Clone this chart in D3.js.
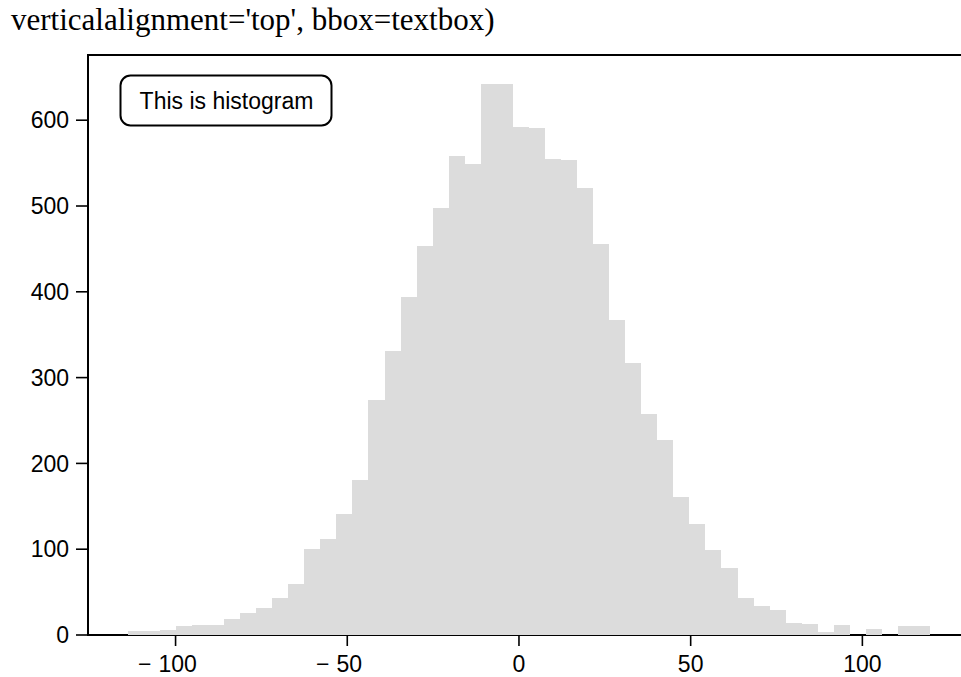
<!DOCTYPE html>
<html>
<head>
<meta charset="utf-8">
<script src="https://cdn.jsdelivr.net/npm/d3@7"></script>
<style>
  html, body { margin: 0; padding: 0; background: #fff; }
  svg { display: block; }
</style>
</head>
<body>
<svg id="chart" width="961" height="677"></svg>
<script>
// Histogram bin edges (51 edges -> 50 bins)
const binEdges = [
  -113.90, -109.23, -104.56, -99.88, -95.21, -90.54, -85.87, -81.20, -76.52, -71.85,
  -67.18, -62.51, -57.84, -53.16, -48.49, -43.82, -39.15, -34.48, -29.80, -25.13,
  -20.46, -15.79, -11.12, -6.44, -1.77, 2.90, 7.57, 12.24, 16.92, 21.59,
  26.26, 30.93, 35.60, 40.28, 44.95, 49.62, 54.29, 58.96, 63.64, 68.31,
  72.98, 77.65, 82.32, 87.00, 91.67, 96.34, 101.01, 105.68, 110.36, 115.03,
  119.70
];

// Count per bin
const counts = [
  5, 5, 6, 11, 12, 12, 19, 26, 32, 43,
  59, 100, 112, 141, 181, 274, 331, 394, 453, 498,
  558, 549, 642, 642, 592, 591, 555, 554, 521, 456,
  367, 317, 258, 227, 161, 129, 99, 78, 43, 34,
  29, 14, 13, 3, 12, 0, 7, 0, 10, 10
];

const xTicks = [-100, -50, 0, 50, 100];
const yTicks = [0, 100, 200, 300, 400, 500, 600];
const xDomain = [-125.5, 131.4];
const yDomain = [0, 676];

const captionText = "verticalalignment='top', bbox=textbox)";
const boxText = "This is histogram";

const svg = d3.select("#chart");

const x = d3.scaleLinear().domain(xDomain).range([88, 970.2]);
const y = d3.scaleLinear().domain(yDomain).range([635, 55]);

const sans = "'Liberation Sans', Arial, sans-serif";
const tickFont = 23;

// caption line above the axes
svg.append("text")
  .attr("x", 11).attr("y", 30)
  .attr("font-family", "'Liberation Serif', 'Times New Roman', serif")
  .attr("font-size", 31)
  .attr("fill", "#000")
  .text(captionText);

// spines: left, top, bottom (the right one lies outside the frame)
const spines = svg.append("g").attr("stroke", "#000").attr("stroke-width", 2);
spines.append("line").attr("x1", x(xDomain[0])).attr("x2", x(xDomain[0]))
  .attr("y1", y(yDomain[1]) - 1).attr("y2", y(0) + 1);
spines.append("line").attr("x1", x(xDomain[0]) - 1).attr("x2", 961)
  .attr("y1", y(yDomain[1])).attr("y2", y(yDomain[1]));
spines.append("line").attr("x1", x(xDomain[0]) - 1).attr("x2", 961)
  .attr("y1", y(0)).attr("y2", y(0));

// histogram bars
const bins = counts.map((c, i) => ({ x0: binEdges[i], x1: binEdges[i + 1], count: c }));
svg.append("g")
  .selectAll("rect")
  .data(bins.filter(d => d.count > 0))
  .join("rect")
  .attr("x", d => x(d.x0))
  .attr("width", d => x(d.x1) - x(d.x0))
  .attr("y", d => y(d.count))
  .attr("height", d => y(0) - y(d.count))
  .attr("fill", "#dcdcdc")
  .attr("shape-rendering", "crispEdges");

// y axis ticks and labels
const yAxis = svg.append("g");
yAxis.selectAll("line").data(yTicks).join("line")
  .attr("x1", x(xDomain[0]) - 12).attr("x2", x(xDomain[0]))
  .attr("y1", d => y(d)).attr("y2", d => y(d))
  .attr("stroke", "#000").attr("stroke-width", 1.6);
yAxis.selectAll("text").data(yTicks).join("text")
  .attr("x", 69).attr("y", d => y(d))
  .attr("dy", "0.36em")
  .attr("text-anchor", "end")
  .attr("font-family", sans).attr("font-size", tickFont)
  .text(d => d);

// x axis ticks and labels (minus sign hangs to the left of the digits)
const xAxis = svg.append("g");
xAxis.selectAll("line").data(xTicks).join("line")
  .attr("x1", d => x(d)).attr("x2", d => x(d))
  .attr("y1", y(0)).attr("y2", y(0) + 11)
  .attr("stroke", "#000").attr("stroke-width", 1.6);
xAxis.selectAll("g").data(xTicks).join("g").each(function (d) {
  const g = d3.select(this);
  const cx = x(d) + (d < 0 ? 2 : 0);
  const digits = g.append("text")
    .attr("x", cx).attr("y", 672)
    .attr("text-anchor", "middle")
    .attr("font-family", sans).attr("font-size", tickFont)
    .text(Math.abs(d));
  if (d < 0) {
    const w = digits.node().getComputedTextLength();
    g.append("text")
      .attr("x", cx - w / 2 - 7).attr("y", 672)
      .attr("text-anchor", "end")
      .attr("font-family", sans).attr("font-size", tickFont)
      .text("\u2212");
  }
});

// annotation box with rounded corners
const box = svg.append("g");
box.append("rect")
  .attr("x", 120.5).attr("y", 75.5)
  .attr("width", 211).attr("height", 50)
  .attr("rx", 10).attr("ry", 10)
  .attr("fill", "#fff").attr("stroke", "#000").attr("stroke-width", 2);
box.append("text")
  .attr("x", 226.5).attr("y", 108.5)
  .attr("text-anchor", "middle")
  .attr("font-family", sans).attr("font-size", tickFont)
  .text(boxText);
</script>
</body>
</html>
